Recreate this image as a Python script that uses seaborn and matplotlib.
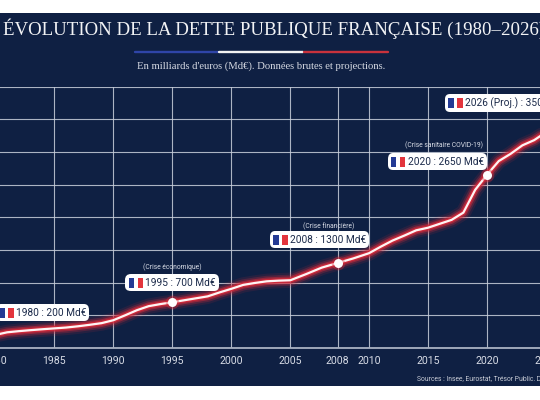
import numpy as np
import pandas as pd
import matplotlib
matplotlib.use("Agg")
import matplotlib.pyplot as plt
import seaborn as sns
from matplotlib.offsetbox import AnnotationBbox, HPacker, TextArea, DrawingArea
from matplotlib.patches import Rectangle
from matplotlib.lines import Line2D

# ---------------- data ----------------
years = list(range(1980, 2027))
debt = [200, 240, 258, 273, 287, 300, 313, 332, 355, 380,
        425, 500, 578, 640, 672, 700, 730, 760, 790, 850,
        905, 965, 995, 1020, 1030, 1036, 1130, 1230, 1300, 1370,
        1450, 1550, 1644, 1720, 1800, 1840, 1900, 1960, 2071, 2420,
        2650, 2860, 2970, 3100, 3180, 3300, 3500]
tick_years = [1980, 1985, 1990, 1995, 2000, 2005, 2008, 2010, 2015, 2020, 2025]
marker_years = [1995, 2008, 2020, 2026]
highlight_years = [1980, 1995, 2008, 2020, 2026]
highlight_values = [200, 700, 1300, 2650, 3500]
highlight_labels = ["1980 : 200 Md€", "1995 : 700 Md€", "2008 : 1300 Md€",
                    "2020 : 2650 Md€", "2026 (Proj.) : 3500 Md€"]
crisis_labels = ["", "(Crise économique)", "(Crise financière)",
                 "(Crise sanitaire COVID-19)", ""]
title = "ÉVOLUTION DE LA DETTE PUBLIQUE FRANÇAISE (1980–2026)"
subtitle = "En milliards d'euros (Md€). Données brutes et projections."
source = "Sources : Insee, Eurostat, Trésor Public. Données 2026 : projection."

df = pd.DataFrame({"annee": years, "dette": debt})
dfm = df[df["annee"].isin(marker_years)]

# ---------------- style ----------------
NAVY = "#0f2043"
RED = "#d42a3a"
GRID = "#c9cfdb"
TXT = "#d8dce6"

sns.set_theme(style="dark")
plt.rcParams["font.family"] = ["Roboto", "DejaVu Sans"]

fig = plt.figure(figsize=(5.4, 4), dpi=100)
fig.patch.set_facecolor("white")
fig.add_artist(Rectangle((0, (400 - 386) / 400), 1, (386 - 13) / 400,
                         transform=fig.transFigure, facecolor=NAVY,
                         edgecolor="none", zorder=-10))

ax = fig.add_axes([-28.3 / 540, 0.13, 609.7 / 540, 0.65375])
ax.set_facecolor(NAVY)

# slightly stretched 2005-2010 segment, as in the original axis
def fwd(x):
    return np.interp(x, [1900, 2005, 2010, 2100], [1900, 2005, 2005 + 20 / 3, 2100 + 5 / 3])

def inv(u):
    return np.interp(u, [1900, 2005, 2005 + 20 / 3, 2100 + 5 / 3], [1900, 2005, 2010, 2100])

ax.set_xscale("function", functions=(fwd, inv))

# glow layers
for lw, a in [(11, 0.12), (8, 0.25), (5.5, 0.5), (3.4, 0.9)]:
    sns.lineplot(data=df, x="annee", y="dette", ax=ax, color=RED,
                 linewidth=lw, alpha=a, solid_capstyle="round",
                 solid_joinstyle="round", zorder=3)
sns.lineplot(data=df, x="annee", y="dette", ax=ax, color="#fff4f4",
             linewidth=1.6, solid_joinstyle="round", zorder=4)
ax.scatter(dfm["annee"], dfm["dette"], s=95, color=RED, alpha=0.35, zorder=5, linewidths=0)
ax.scatter(dfm["annee"], dfm["dette"], s=42, color="white", zorder=6, linewidths=0)

ax.set_xlim(1978, 2028)
ax.set_ylim(0, 4000)
ax.set_xticks(tick_years)
ax.set_xticklabels([str(t) for t in tick_years])
ax.set_yticks(np.arange(0, 4001, 500))
ax.set_yticklabels([])
ax.set_xlabel("")
ax.set_ylabel("")
ax.grid(True, color=GRID, linewidth=0.8, alpha=0.85)
ax.tick_params(axis="x", length=0, pad=6, colors=TXT, labelsize=7.6)
ax.tick_params(axis="y", length=0)
for s in ["top", "left", "right"]:
    ax.spines[s].set_visible(False)
ax.spines["bottom"].set_color("#aab2c2")
ax.spines["bottom"].set_linewidth(1.3)

# ---------------- annotations ----------------
# (box alignment, dx pt, dy pt, crisis text dx, dy, ha)
layout = [((0, 0.5), 2.7, 16, 0, 0, "center"),
          ((0.5, 0.5), 0, 14, 0, 25, "center"),
          ((0.5, 0.5), -13, 16.8, -6.3, 26, "center"),
          ((1, 0.5), -2.4, 9.4, -2.6, 20.9, "right"),
          ((0, 0.5), -79, 11.5, 0, 0, "center")]

for yr, val, lab, cr, lay in zip(highlight_years, highlight_values,
                                 highlight_labels, crisis_labels, layout):
    balign, dx, dy, cdx, cdy, cha = lay
    da = DrawingArea(10.5, 7.4, 0, 0)
    da.add_artist(Rectangle((0, 0), 4.0, 7.4, facecolor="#243a94", edgecolor="none"))
    da.add_artist(Rectangle((6.5, 0), 4.0, 7.4, facecolor="#e3353d", edgecolor="none"))
    ta = TextArea(lab, textprops=dict(color="#1b2a4a", fontsize=7.3,
                                      family=["Roboto", "DejaVu Sans"]))
    pack = HPacker(children=[da, ta], align="center", pad=0, sep=1.5)
    ab = AnnotationBbox(pack, (yr, val), xybox=(dx, dy), xycoords="data",
                        boxcoords="offset points", box_alignment=balign,
                        frameon=True, pad=0.22, annotation_clip=False,
                        bboxprops=dict(boxstyle="round,pad=0.22,rounding_size=0.35",
                                       facecolor="white", edgecolor="none"),
                        zorder=8)
    ax.add_artist(ab)
    if cr:
        ax.annotate(cr, (yr, val), xytext=(cdx, cdy), textcoords="offset points",
                    ha=cha, va="center", fontsize=4.9, color=TXT, zorder=8,
                    annotation_clip=False)

# ---------------- titles ----------------
fig.text(274 / 540, 1 - 29 / 400, title, ha="center", va="center",
         fontsize=13.6, family=["Liberation Serif", "DejaVu Serif"], color="#f2f3f5")
y_line = 1 - 52 / 400
for x0, x1, c in [(135, 218, "#2f45a8"), (219, 303, "#f2f2f2"), (304, 388, "#c8323c")]:
    fig.add_artist(Line2D([x0 / 540, x1 / 540], [y_line, y_line], color=c,
                          linewidth=1.7, transform=fig.transFigure))
fig.text(261.5 / 540, 1 - 66 / 400, subtitle, ha="center", va="center",
         fontsize=7.7, family=["Liberation Serif", "DejaVu Serif"], color="#d5d9e2")
fig.text(416.7 / 540, 1 - 379.5 / 400, source, ha="left", va="center",
         fontsize=4.85, color="#c8ccd6")

fig.savefig("out.png", dpi=100, facecolor=fig.get_facecolor())
